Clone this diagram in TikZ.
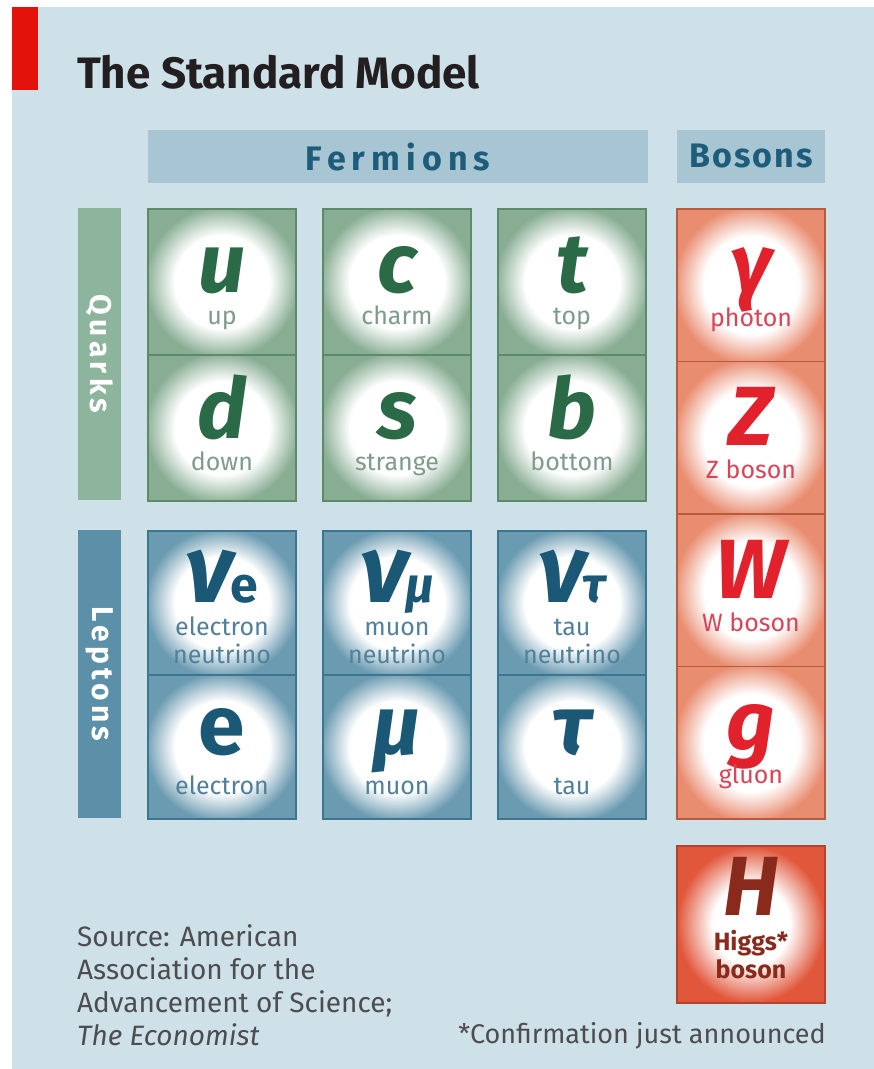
\documentclass[tikz,border=0pt]{standalone}
\usepackage{fontspec}
\setmainfont{Fira Sans}
\usepackage{tikz}
\usetikzlibrary{positioning, calc}

\definecolor{bgblue}{HTML}{CEE0E8}
\definecolor{bandblue}{HTML}{A8C5D3}
\definecolor{headtext}{HTML}{1E5D7A}
\definecolor{ecored}{HTML}{E3120B}
\definecolor{titlegray}{HTML}{231F20}
\definecolor{srcgray}{HTML}{4D4D4F}
\definecolor{qfill}{HTML}{88AD93}
\definecolor{qedge}{HTML}{5D8A6B}
\definecolor{qsym}{HTML}{2B6A47}
\definecolor{qlab}{HTML}{7F9C8A}
\definecolor{qbar}{HTML}{8DB49C}
\definecolor{lfill}{HTML}{6B9BB1}
\definecolor{ledge}{HTML}{3E7591}
\definecolor{lsym}{HTML}{1A5876}
\definecolor{llab}{HTML}{50809A}
\definecolor{lbar}{HTML}{5C8FA8}
\definecolor{bfill}{HTML}{E98D70}
\definecolor{bedge}{HTML}{B65A40}
\definecolor{bsym}{HTML}{E1222C}
\definecolor{blab}{HTML}{DA4456}
\definecolor{hfill}{HTML}{E1573B}
\definecolor{hedge}{HTML}{B4432D}
\definecolor{hsym}{HTML}{8A2A1C}

% white glow in the middle of each cell
\pgfdeclareradialshading{glowq}{\pgfpoint{0bp}{0bp}}{color(0bp)=(white); color(16bp)=(white); color(26bp)=(qfill); color(50bp)=(qfill)}
\pgfdeclareradialshading{glowl}{\pgfpoint{0bp}{0bp}}{color(0bp)=(white); color(16bp)=(white); color(26bp)=(lfill); color(50bp)=(lfill)}
\pgfdeclareradialshading{glowb}{\pgfpoint{0bp}{0bp}}{color(0bp)=(white); color(16bp)=(white); color(26bp)=(bfill); color(50bp)=(bfill)}
\pgfdeclareradialshading{glowh}{\pgfpoint{0bp}{0bp}}{color(0bp)=(white); color(13bp)=(white); color(25bp)=(hfill); color(50bp)=(hfill)}

% big particle letter, and the neutrino letter with its flavour
\newcommand{\psym}[2]{{\color{#1}\fontsize{84}{84}\selectfont\bfseries\itshape #2}}
\newcommand{\nusym}[1]{{\color{lsym}\bfseries\itshape{\fontsize{96}{96}\selectfont ν}\kern-3pt{\fontsize{50}{50}\selectfont #1}}}

\begin{document}
\lineskiplimit=-100pt\relax
\begin{tikzpicture}[x=1pt, y=-1pt,
    cell/.style    = {rectangle, shade, line width=1.8pt, minimum width=148pt, inner sep=0pt, anchor=north},
    qcell/.style   = {cell, draw=qedge, shading=glowq, minimum height=146pt},
    lcell/.style   = {cell, draw=ledge, shading=glowl, minimum height=144pt},
    bcell/.style   = {cell, draw=bedge, shading=glowb, minimum height=152.5pt},
    hcell/.style   = {cell, draw=hedge, shading=glowh, minimum height=157pt},
    txt/.style     = {inner sep=0pt, anchor=base, align=center, font=\fontsize{25}{28}\selectfont},
    band/.style    = {fill=bandblue, text=headtext, minimum height=53pt, inner sep=0pt},
    sidebar/.style = {rotate=-90, text=white, minimum height=43pt, inner sep=0pt,
                      font=\fontsize{30}{30}\selectfont\bfseries\addfontfeature{LetterSpace=14}},
    note/.style    = {inner sep=0pt, text=srcgray, font=\fontsize{28}{33}\selectfont},
]

%% ---- Page and background ----
\useasboundingbox (0,0) rectangle (874,1069);
\fill[white] (0,0) rectangle (874,1069);
\fill[bgblue] (12,7) rectangle (874,1069);
\fill[ecored] (12,7) rectangle (38,90);

%% ---- Column / row positions ----
\def\xA{222}    % first generation
\def\xB{397}    % second generation
\def\xC{572}    % third generation
\def\xG{751}    % gauge bosons
\def\yQa{208}   % quarks, top row
\def\yQb{354}   % quarks, bottom row
\def\yLa{530}   % leptons, top row
\def\yLb{674}   % leptons, bottom row

%% ---- Title ----
\node[anchor=base west, inner sep=0pt, text=titlegray,
      font=\fontsize{44}{44}\selectfont\bfseries] (title) at (77,88) {The Standard Model};

%% ---- Headers ----
\node[band, minimum width=500pt, font=\fontsize{34}{34}\selectfont\bfseries\addfontfeature{LetterSpace=18}]
    (fermions) at (398,156.5) {Fermions};
\node[band, minimum width=148pt, font=\fontsize{34}{34}\selectfont\bfseries\addfontfeature{LetterSpace=6}]
    (bosons) at (\xG,156.5) {Bosons};

\node[sidebar, fill=qbar, minimum width=292pt] (quarks)  at (99.5,354) {Quarks};
\node[sidebar, fill=lbar, minimum width=288pt] (leptons) at (99.5,674) {Leptons};

%% ---- Quarks ----
% (text nodes are anchored on the baseline of their last line)
\foreach \nm/\cx/\cy/\smb/\nam in {u/\xA/\yQa/u/up, c/\xB/\yQa/c/charm, t/\xC/\yQa/t/top,
                                   d/\xA/\yQb/d/down, s/\xB/\yQb/s/strange, b/\xC/\yQb/b/bottom}{
    \node[qcell] (\nm) at (\cx,\cy) {};
    \node[txt, text=qlab] (\nm-txt) at ($(\nm.north)+(0,116)$) {\psym{qsym}{\smb}\\[4pt]\nam};
}

%% ---- Leptons ----
\foreach \nm/\cx/\sub/\nam in {nue/\xA/{\upshape e}/electron, numu/\xB/μ/muon, nutau/\xC/τ/tau}{
    \node[lcell] (\nm) at (\cx,\yLa) {};
    \node[txt, text=llab] (\nm-txt) at ($(\nm.north)+(0,133)$) {\nusym{\sub}\\[5pt]\nam\\neutrino};
}
\foreach \nm/\cx/\smb/\nam in {el/\xA/{\upshape e}/electron, mu/\xB/μ/muon, tau/\xC/τ/tau}{
    \node[lcell] (\nm) at (\cx,\yLb) {};
    \node[txt, text=llab] (\nm-txt) at ($(\nm.north)+(0,120)$) {\psym{lsym}{\smb}\\[12pt]\nam};
}

%% ---- Bosons ----
\foreach \nm/\cy/\smb/\nam in {gam/208/γ/photon, zb/360.5/Z/Z boson, wb/513/W/W boson, gl/665.5/g/gluon}{
    \node[bcell] (\nm) at (\xG,\cy) {};
    \node[txt, text=blab] (\nm-txt) at ($(\nm.north)+(0,118)$) {\psym{bsym}{\smb}\\[5pt]\nam};
}

%% ---- Higgs ----
\node[hcell] (higgs) at (\xG,845) {};
\node[txt, text=hsym, font=\fontsize{25}{28}\selectfont\bfseries]
    (higgs-txt) at ($(higgs.north)+(0,133)$) {\psym{hsym}{H}\\[7pt]Higgs*\\boson};

%% ---- Footer ----
\node[note, anchor=north west, align=left] (source) at (77,924)
    {Source: American\\Association for the\\Advancement of Science;\\\textit{The Economist}};
\node[note, anchor=base east, font=\fontsize{27}{33}\selectfont] (confirm) at (826,1043) {*Confirmation just announced};

\end{tikzpicture}
\end{document}
